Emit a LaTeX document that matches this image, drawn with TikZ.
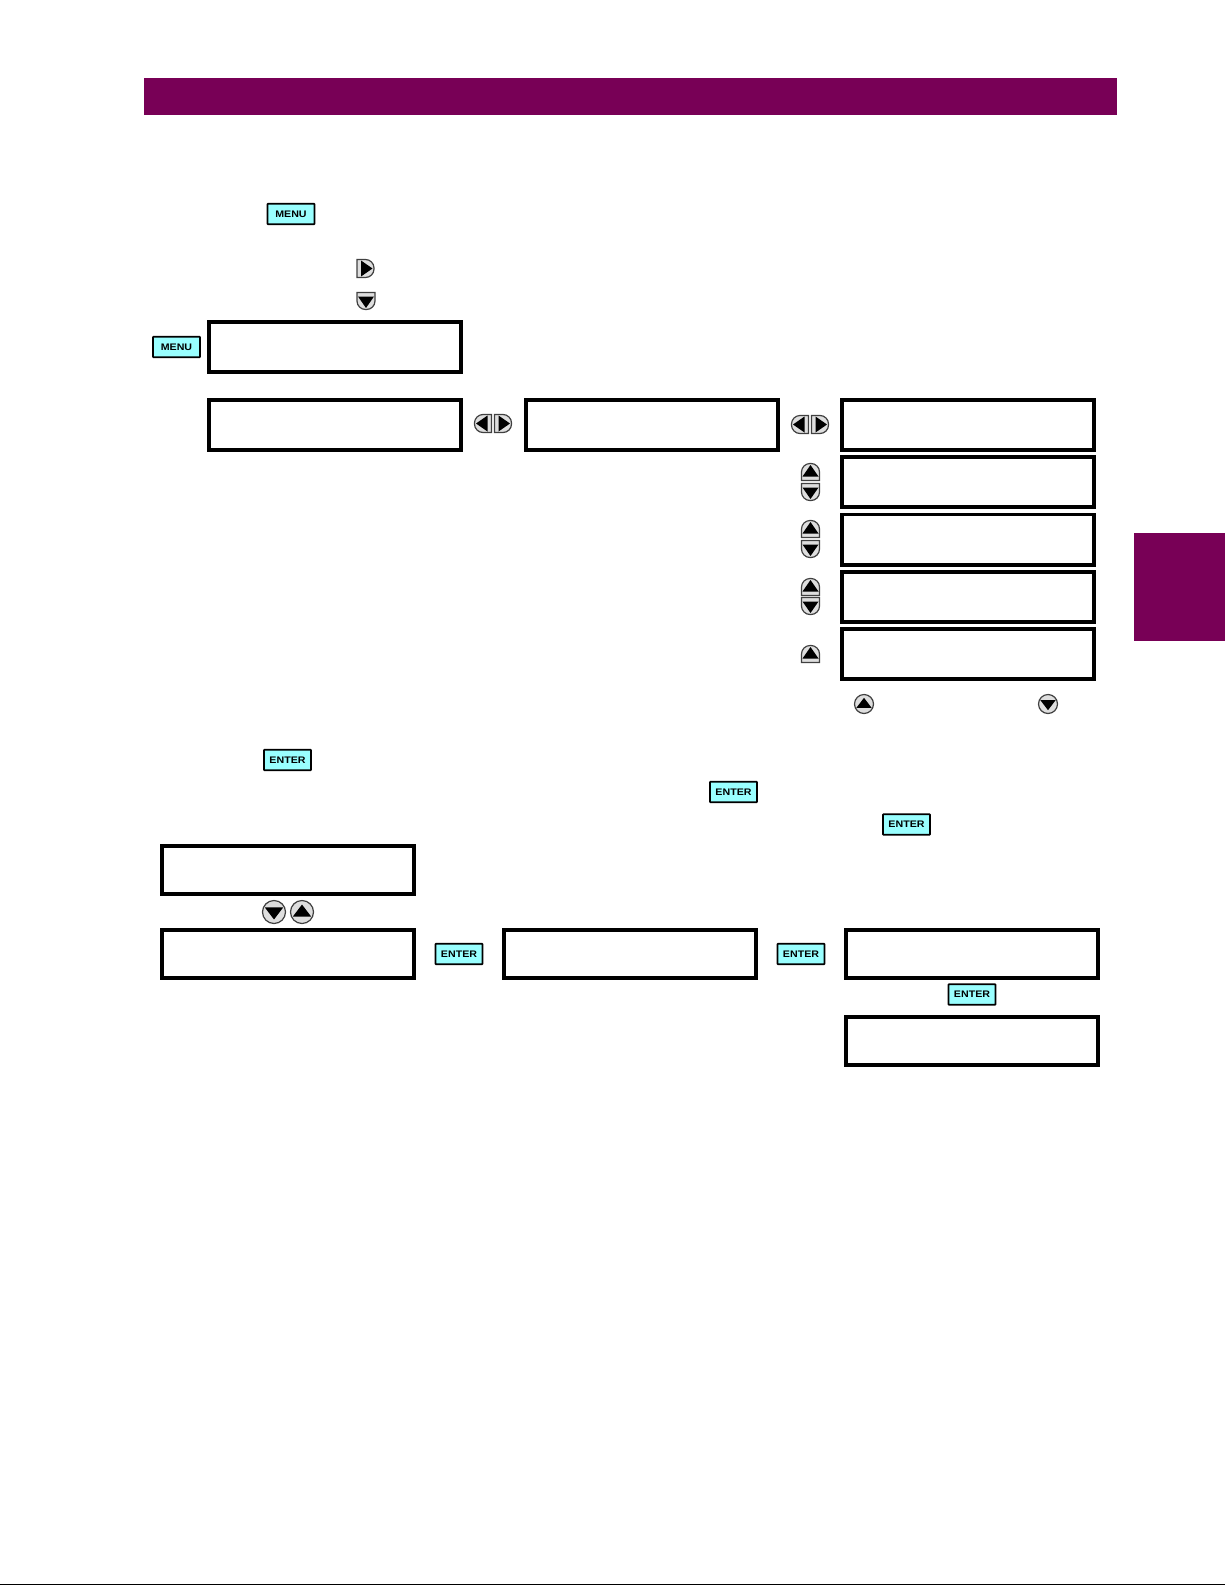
\documentclass[tikz,border=0pt]{standalone}
\usepackage{fontspec}
\setmainfont{Liberation Sans}
\newfontfamily\keyfont[FakeStretch=1.12]{Liberation Sans}
\definecolor{ge}{HTML}{780056}
\definecolor{keycyan}{HTML}{99FFFF}
\definecolor{keygray}{HTML}{DEDEDE}
\definecolor{keyedge}{HTML}{404040}
\tikzset{
  lcd/.style={draw=black,fill=white,line width=3.7pt,minimum width=252.3pt,minimum height=50.3pt,inner sep=0pt},
  lcdlow/.style={lcd,minimum height=48.3pt},
  softkey/.style={draw=black,fill=keycyan,line width=1.6pt,rounded corners=0.5pt,minimum width=47pt,minimum height=20.5pt,inner sep=0pt,
    font=\keyfont\bfseries\fontsize{9.5}{12}\selectfont},
  keyshape/.style={draw=keyedge,fill=keygray,line width=1.2pt},
  pics/keyright/.style={code={
    \draw[keyshape] (-8.5,-9) [rounded corners=8.5pt] -- (8.5,-9) -- (8.5,9) [sharp corners] -- (-8.5,9) -- cycle;
    \fill[black] (-4.5,-8) -- (7,0) -- (-4.5,8) -- cycle;}},
  pics/keyleft/.style={code={
    \draw[keyshape] (8.5,-9) [rounded corners=8.5pt] -- (-8.5,-9) -- (-8.5,9) [sharp corners] -- (8.5,9) -- cycle;
    \fill[black] (4.5,-8) -- (-7,0) -- (4.5,8) -- cycle;}},
  pics/keyup/.style={code={
    \draw[keyshape] (-9,8.5) [rounded corners=8.5pt] -- (-9,-8.5) -- (9,-8.5) [sharp corners] -- (9,8.5) -- cycle;
    \fill[black] (-8,4.5) -- (0,-7) -- (8,4.5) -- cycle;}},
  pics/keydown/.style={code={
    \draw[keyshape] (-9,-8.5) [rounded corners=8.5pt] -- (-9,8.5) -- (9,8.5) [sharp corners] -- (9,-8.5) -- cycle;
    \fill[black] (-8,-4.5) -- (0,7) -- (8,-4.5) -- cycle;}},
  pics/roundup/.style={code={
    \draw[keyedge,fill=keygray,line width=1.2pt] (0,0) circle (#1);
    \fill[black] (-0.8*#1,0.4*#1) -- (0,-0.65*#1) -- (0.8*#1,0.4*#1) -- cycle;}},
  pics/rounddown/.style={code={
    \draw[keyedge,fill=keygray,line width=1.2pt] (0,0) circle (#1);
    \fill[black] (-0.8*#1,-0.4*#1) -- (0,0.65*#1) -- (0.8*#1,-0.4*#1) -- cycle;}},
}
\begin{document}
\begin{tikzpicture}[x=1pt,y=-1pt]
\useasboundingbox (0,0) rectangle (1225,1585);
% page furniture
\fill[ge] (143.5,78) rectangle (1117,115);
\fill[ge] (1134,533) rectangle (1225,641);
\fill[black] (0,1583.5) rectangle (1225,1585);
% top section keys
\node[softkey] (menuA) at (291,214) {MENU};
\pic at (365.5,268.5) {keyright};
\pic at (366,301) {keydown};
\node[softkey] (menuB) at (176.5,347) {MENU};
% displays, top section
\node[lcd] (b1) at (335,347) {};
\node[lcd] (b2) at (335,425) {};
\node[lcd] (b3) at (652,425) {};
\node[lcd] (r1) at (968,425) {};
\node[lcd] (r2) at (968,482) {};
\node[lcd] (r3) at (968,539.5) {};
\node[lcd] (r4) at (968,597) {};
\node[lcd] (r5) at (968,654) {};
% left/right pairs
\pic at (483,423.5) {keyleft};
\pic at (503,423.5) {keyright};
\pic at (800,424.5) {keyleft};
\pic at (820,424.5) {keyright};
% up/down stacks
\pic at (810.5,472) {keyup};
\pic at (810.5,492) {keydown};
\pic at (810.5,529) {keyup};
\pic at (810.5,549) {keydown};
\pic at (810.5,587) {keyup};
\pic at (810.5,606) {keydown};
\pic at (810.5,654) {keyup};
\pic at (864,704) {roundup=9.5};
\pic at (1048,704) {rounddown=9.5};
% lower section
\node[softkey] (entA) at (287.5,760) {ENTER};
\node[softkey] (entB) at (733.5,792) {ENTER};
\node[softkey] (entC) at (906.5,824.5) {ENTER};
\node[lcdlow] (c1) at (288,870) {};
\pic at (274,912) {rounddown=11.5};
\pic at (302,912) {roundup=11.5};
\node[lcdlow] (c2) at (288,954) {};
\node[softkey] (entD) at (459,954) {ENTER};
\node[lcdlow] (c3) at (630,954) {};
\node[softkey] (entE) at (801,954) {ENTER};
\node[lcdlow] (c4) at (972,954) {};
\node[softkey] (entF) at (972,994.5) {ENTER};
\node[lcdlow] (c5) at (972,1041) {};
\end{tikzpicture}
\end{document}
